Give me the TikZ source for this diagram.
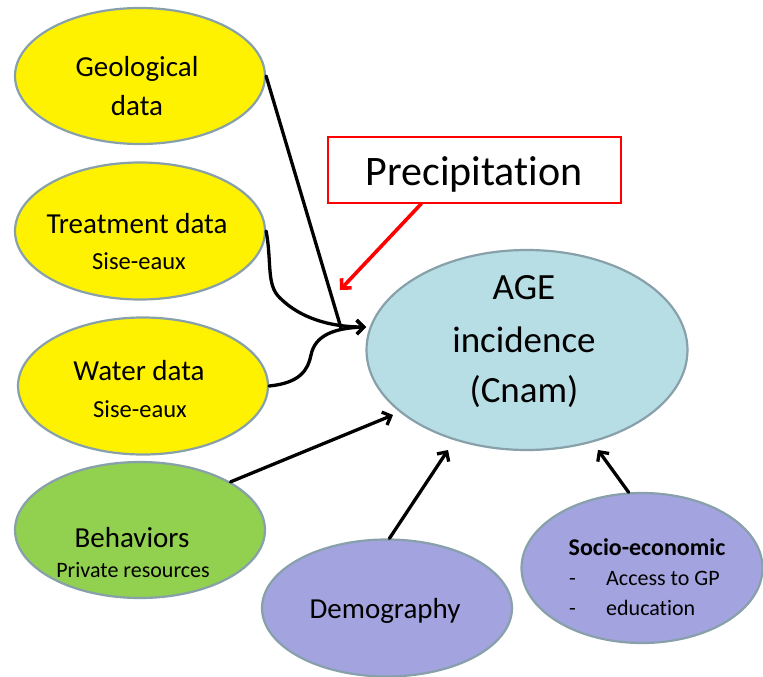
\documentclass[tikz,border=0pt]{standalone}
\usepackage{fontspec}
\setmainfont{Carlito}[Ligatures={NoCommon}]
\usetikzlibrary{arrows.meta,calc,shapes.geometric}
\definecolor{bord}{RGB}{135,160,170}
\definecolor{ageblue}{RGB}{183,222,228}
\definecolor{behgreen}{RGB}{146,208,80}
\definecolor{lilac}{RGB}{163,163,224}
\begin{document}
\begin{tikzpicture}[x=1pt,y=-1pt,
  blob/.style={ellipse, draw=bord, line width=2.2pt, inner sep=0pt},
  lbl/.style={anchor=base, inner sep=0pt, font=\fontsize{29}{35}\selectfont},
  sublbl/.style={anchor=base, inner sep=0pt, font=\fontsize{22}{26}\selectfont},
  biglbl/.style={anchor=base, inner sep=0pt, font=\fontsize{37}{44}\selectfont},
  itemlbl/.style={anchor=base west, inner sep=0pt, font=\fontsize{22}{26}\selectfont},
  conn/.style={line width=3.3pt, line cap=round},
  tipped/.style={-{Straight Barb[length=7pt,width=14pt]}}]
\useasboundingbox (0,0) rectangle (763,677);
% ellipses
\node[blob, fill=yellow, minimum width=250pt, minimum height=136pt] (geo) at (140,76) {};
\node[blob, fill=yellow, minimum width=250pt, minimum height=137pt] (treat) at (140,231) {};
\node[blob, fill=yellow, minimum width=250pt, minimum height=137pt] (water) at (143,386) {};
\node[blob, fill=behgreen, minimum width=250pt, minimum height=136pt] (behav) at (140,530) {};
\node[blob, fill=lilac, minimum width=250pt, minimum height=137pt] (demo) at (387,608) {};
\node[blob, fill=lilac, minimum width=241pt, minimum height=150pt] (socio) at (642,568) {};
\node[blob, fill=ageblue, minimum width=321pt, minimum height=200pt] (age) at (527,350) {};
\node[draw=red, line width=1.2pt, minimum width=293pt, minimum height=66pt, inner sep=0pt] (precip) at (474.5,170) {};
% texts
\node[lbl] (geot1) at (137,77) {Geological};
\node[lbl] (geot2) at (137,115) {data};
\node[lbl] (treatt1) at (137,233) {Treatment data};
\node[sublbl, font=\fontsize{24.5}{28}\selectfont] (treatt2) at (139,269) {Sise-eaux};
\node[lbl] (watert1) at (139,380) {Water data};
\node[sublbl, font=\fontsize{24.5}{28}\selectfont] (watert2) at (140,417) {Sise-eaux};
\node[lbl] (behavt1) at (132,547) {Behaviors};
\node[sublbl] (behavt2) at (133,577) {Private resources};
\node[lbl] (demot) at (385,618) {Demography};
\node[biglbl] (aget1) at (524,299) {AGE};
\node[biglbl] (aget2) at (524,352) {incidence};
\node[biglbl] (aget3) at (524,402) {(Cnam)};
\node[anchor=base, inner sep=0pt, font=\fontsize{42}{50}\selectfont] (prect) at (474,185) {Precipitation};
\node[anchor=base, inner sep=0pt, font=\bfseries\fontsize{24}{28}\selectfont] (sociot) at (647,555) {Socio-economic};
\node[itemlbl] (dash1) at (569,585) {-};
\node[itemlbl] (item1) at (606,585) {Access to GP};
\node[itemlbl] (dash2) at (569,615) {-};
\node[itemlbl] (item2) at (606,615) {education};
% connectors
\coordinate (mtip) at (366,327);
\coordinate (gend) at (341,328);
\coordinate (ptip) at (340,290);
\coordinate (btip) at (393,415);
\coordinate (dtip) at (448,450);
\coordinate (stip) at (598,450);
\draw[conn] (geo.east) -- (gend);
\draw[conn, tipped] (treat.east) .. controls (272,262) and (266,285) .. (280,298) .. controls (300,318) and (330,327) .. (mtip);
\draw[conn, tipped] (water.east) .. controls (300,383) and (308,370) .. (311,355) .. controls (315,335) and (335,328) .. (mtip);
\draw[conn, red, line width=3.6pt, tipped] ($(precip.south west)+(94,0)$) -- (ptip);
\draw[conn, tipped] (behav.28) -- (btip);
\draw[conn, tipped] (demo.88) -- (dtip);
\draw[conn, tipped] (socio.100) -- (stip);
\end{tikzpicture}
\end{document}
